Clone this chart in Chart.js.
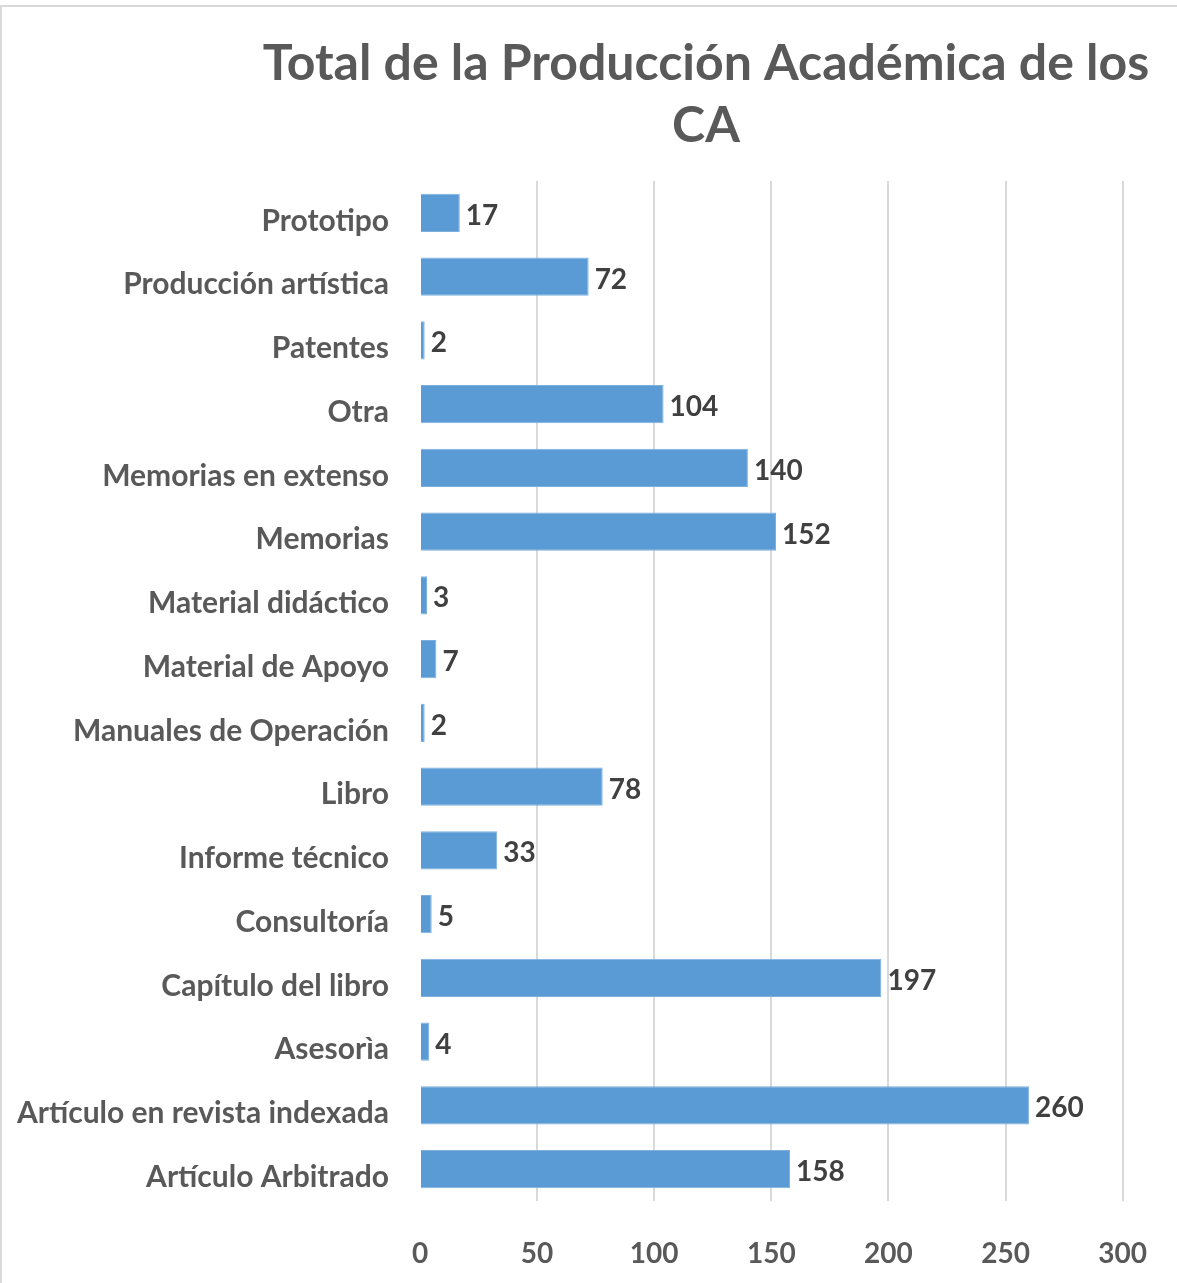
<!DOCTYPE html>
<html>
<head>
<meta charset="utf-8">
<script src="https://cdn.jsdelivr.net/npm/chart.js@4/dist/chart.umd.min.js"></script>
<style>
  html, body { margin: 0; padding: 0; background: #ffffff; overflow: hidden; }
  #frame { position: absolute; left: 0; top: 5px; width: 1250px; height: 1350px; border: 2px solid #d9d9d9; box-sizing: border-box; }
  #wrap { position: absolute; left: 0; top: 0; width: 1177px; height: 1283px; }
</style>
</head>
<body>
<div id="frame"></div>
<div id="wrap"><canvas id="c" width="1177" height="1283"></canvas></div>
<script>
const titleLines = ['Total de la Producción Académica de los', 'CA'];
const categories = ['Prototipo', 'Producción artística', 'Patentes', 'Otra', 'Memorias en extenso', 'Memorias', 'Material didáctico', 'Material de Apoyo', 'Manuales de Operación', 'Libro', 'Informe técnico', 'Consultoría', 'Capítulo del libro', 'Asesorìa', 'Artículo en revista indexada', 'Artículo Arbitrado'];
const values = [17, 72, 2, 104, 140, 152, 3, 7, 2, 78, 33, 5, 197, 4, 260, 158];
const xTicks = [0, 50, 100, 150, 200, 250, 300];

const FONT = 'Lato, "Open Sans", sans-serif';

const titlePlugin = {
  id: 'customTitle',
  afterDraw(chart) {
    const ctx = chart.ctx;
    ctx.save();
    ctx.fillStyle = '#595959';
    ctx.font = 'bold 50px ' + FONT;
    ctx.textAlign = 'center';
    ctx.textBaseline = 'middle';
    ctx.fillText(titleLines[0], 706, 64);
    ctx.fillText(titleLines[1], 706, 126);
    ctx.restore();
  }
};

const valueLabels = {
  id: 'valueLabels',
  afterDatasetsDraw(chart) {
    const ctx = chart.ctx;
    const meta = chart.getDatasetMeta(0);
    ctx.save();
    ctx.fillStyle = '#404040';
    ctx.font = 'bold 28px ' + FONT;
    ctx.textAlign = 'left';
    ctx.textBaseline = 'middle';
    meta.data.forEach((bar, i) => {
      ctx.fillText(String(values[i]), bar.x + 6, bar.y + 3);
    });
    ctx.restore();
  }
};

new Chart(document.getElementById('c'), {
  type: 'bar',
  data: {
    labels: categories,
    datasets: [{
      data: values,
      backgroundColor: '#5b9bd5',
      borderColor: '#7eb0de',
      borderWidth: 1,
      categoryPercentage: 1.0,
      barPercentage: 0.6
    }]
  },
  options: {
    indexAxis: 'y',
    responsive: false,
    animation: false,
    layout: { padding: { top: 181, right: 52, left: 0, bottom: 0 } },
    plugins: { legend: { display: false }, title: { display: false }, tooltip: { enabled: false } },
    scales: {
      x: {
        min: 0, max: 300,
        afterBuildTicks(axis) { axis.ticks = xTicks.map(v => ({ value: v })); },
        afterFit(axis) { axis.height = 82; },
        border: { display: false },
        grid: {
          drawTicks: false,
          lineWidth: 2,
          color: ctx => (ctx.tick && ctx.tick.value === 0) ? 'rgba(0,0,0,0)' : '#d9d9d9'
        },
        ticks: {
          padding: 30,
          color: '#595959',
          font: { family: FONT, size: 28, weight: 'bold', lineHeight: 1.65 }
        }
      },
      y: {
        afterFit(axis) { axis.width = 420; },
        border: { display: false },
        grid: { display: false, drawTicks: false },
        ticks: {
          padding: 31,
          labelOffset: 8,
          color: '#595959',
          font: { family: FONT, size: 30, weight: 'bold' }
        }
      }
    }
  },
  plugins: [titlePlugin, valueLabels]
});
</script>
</body>
</html>
